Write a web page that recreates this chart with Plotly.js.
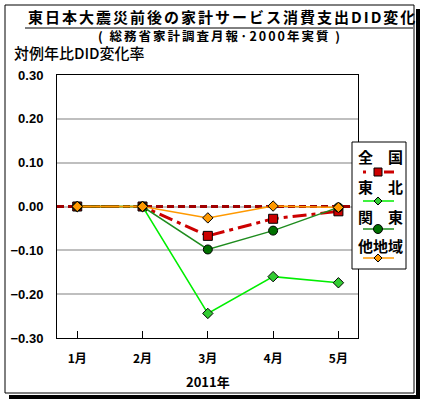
<!DOCTYPE html>
<html>
<head>
<meta charset="utf-8">
<script src="https://cdn.plot.ly/plotly-3.0.1.min.js"></script>
<style>
  html, body { margin: 0; padding: 0; background: #fff; }
  #chart { width: 425px; height: 405px; }
</style>
</head>
<body>
<div id="chart"></div>
<script>
/* ---------------- data ---------------- */
var months = ['1月', '2月', '3月', '4月', '5月'];
var zenkoku = [0, 0, -0.067, -0.028, -0.011];   // 全国
var tohoku  = [0, 0, -0.244, -0.160, -0.174];   // 東北
var kanto   = [0, 0, -0.098, -0.055, -0.002];   // 関東
var others  = [0, 0, -0.026, 0.001, -0.002];    // 他地域
var seriesNames = ['全　国', '東　北', '関　東', '他地域'];

var monthIdx = months.map(function (m, i) { return i; });
var xRange = [-0.31, 4.3];

/* ---------------- pixel helpers ---------------- */
var L = 57, R = 10, T = 75, B = 67;
var W = 425 - L - R, H = 405 - T - B;
function px(x) { return (x - L) / W; }
function py(y) { return (405 - B - y) / H; }

var jp = 'Noto Sans CJK JP, sans-serif';
var num = 'Liberation Sans, Arial, sans-serif';

var RED = '#CC0000', DKRED = '#A00000';
var LGREEN = '#00EE00', LGFILL = '#33CC33';
var DGREEN = '#1E8C1E', DGFILL = '#007000';
var ORANGE = '#FF9900';

/* ---------------- traces ---------------- */
var data = [{
  // dark red dashed reference line at zero, under the series
  x: xRange, y: [0, 0], type: 'scatter', mode: 'lines', hoverinfo: 'skip',
  line: {color: DKRED, width: 3, dash: '7px,4px'}
}, {
  x: monthIdx, y: zenkoku, name: seriesNames[0], type: 'scatter', mode: 'lines+markers',
  line: {color: RED, width: 3, dash: '14px,5px,4px,5px'},
  marker: {symbol: 'square', size: 9, color: RED, line: {color: '#000', width: 1}}
}, {
  x: monthIdx, y: tohoku, name: seriesNames[1], type: 'scatter', mode: 'lines+markers',
  line: {color: LGREEN, width: 1.5},
  marker: {symbol: 'diamond', size: 8, color: LGFILL, line: {color: '#000', width: 1}}
}, {
  x: monthIdx, y: kanto, name: seriesNames[2], type: 'scatter', mode: 'lines+markers',
  line: {color: DGREEN, width: 1.5},
  marker: {symbol: 'circle', size: 9, color: DGFILL, line: {color: '#000', width: 1}}
}, {
  x: monthIdx, y: others, name: seriesNames[3], type: 'scatter', mode: 'lines+markers',
  line: {color: ORANGE, width: 1.5},
  marker: {symbol: 'diamond', size: 8, color: ORANGE, line: {color: '#000', width: 1}}
}];

/* ---------------- legend drawn by hand (text above the sample) ---------------- */
var legX0 = 363, legX1 = 394, legMid = 378;
var legTextY = [156, 186, 216, 245];
var legLineY = [172, 201, 229, 258];

function diamond(cx, cy, r) {
  return 'M' + px(cx) + ',' + py(cy - r) + ' L' + px(cx + r) + ',' + py(cy) +
         ' L' + px(cx) + ',' + py(cy + r) + ' L' + px(cx - r) + ',' + py(cy) + ' Z';
}
function hline(x0, x1, y, color, width) {
  return {type: 'line', xref: 'paper', yref: 'paper', layer: 'above',
    x0: px(x0), x1: px(x1), y0: py(y), y1: py(y),
    line: {color: color, width: width}};
}

var shapes = [
  // outer frame + shadow
  {type: 'rect', xref: 'paper', yref: 'paper', layer: 'above',
   x0: px(5), x1: px(414), y0: py(5), y1: py(393), line: {color: '#000', width: 1}},
  {type: 'rect', xref: 'paper', yref: 'paper', layer: 'above',
   x0: px(416), x1: px(420), y0: py(9), y1: py(399), fillcolor: '#000', line: {width: 0}},
  {type: 'rect', xref: 'paper', yref: 'paper', layer: 'above',
   x0: px(9), x1: px(420), y0: py(395), y1: py(399), fillcolor: '#000', line: {width: 0}},
  // title underline
  hline(25, 413, 28, '#000', 1),
  // legend box
  {type: 'rect', xref: 'paper', yref: 'paper', layer: 'above',
   x0: px(352), x1: px(406), y0: py(142), y1: py(269), fillcolor: '#fff', line: {color: '#000', width: 1}},
  // legend samples
  hline(legX0, legX0 + 3, legLineY[0], RED, 3),
  hline(legMid + 6, legX1, legLineY[0], RED, 3),
  {type: 'rect', xref: 'paper', yref: 'paper', layer: 'above',
   x0: px(legMid - 4), x1: px(legMid + 4), y0: py(legLineY[0] - 4), y1: py(legLineY[0] + 4),
   fillcolor: RED, line: {color: '#000', width: 1}},
  hline(legX0, legX1, legLineY[1], LGREEN, 1.5),
  {type: 'path', xref: 'paper', yref: 'paper', layer: 'above', path: diamond(legMid, legLineY[1], 4),
   fillcolor: LGFILL, line: {color: '#000', width: 1}},
  hline(legX0, legX1, legLineY[2], DGREEN, 1.5),
  {type: 'circle', xref: 'paper', yref: 'paper', layer: 'above',
   x0: px(legMid - 4.5), x1: px(legMid + 4.5), y0: py(legLineY[2] - 4.5), y1: py(legLineY[2] + 4.5),
   fillcolor: DGFILL, line: {color: '#000', width: 1}},
  hline(legX0, legX1, legLineY[3], ORANGE, 1.5),
  {type: 'path', xref: 'paper', yref: 'paper', layer: 'above', path: diamond(legMid, legLineY[3], 4),
   fillcolor: ORANGE, line: {color: '#000', width: 1}}
];

var annotations = [
  {text: '<b><span style="letter-spacing:2px">東日本大震災前後の家計サービス消費支出DID変化</span></b>',
   x: px(26), y: py(17), xanchor: 'left', yanchor: 'middle',
   font: {family: jp, size: 15, color: '#000'}},
  {text: '<b><span style="letter-spacing:2px">( 総務省家計調査月報·2000年実質 )</span></b>',
   x: px(220), y: py(35), xanchor: 'center', yanchor: 'middle',
   font: {family: jp, size: 12.5, color: '#000'}},
  {text: '対例年比DID変化率',
   x: px(12), y: py(52), xanchor: 'left', yanchor: 'middle',
   font: {family: jp, size: 15, color: '#000', weight: 500}},
  {text: '<b>2011年</b>',
   x: px(208), y: py(381), xanchor: 'center', yanchor: 'middle',
   font: {family: jp, size: 13, color: '#000'}}
];
for (var i = 0; i < seriesNames.length; i++) {
  annotations.push({text: '<b>' + seriesNames[i] + '</b>',
    x: px(380), y: py(legTextY[i]), xanchor: 'center', yanchor: 'middle',
    font: {family: jp, size: 15, color: '#000'}});
}
annotations.forEach(function (a) { a.xref = 'paper'; a.yref = 'paper'; a.showarrow = false; });

var layout = {
  width: 425, height: 405,
  margin: {l: L, r: R, t: T, b: B, pad: 0},
  paper_bgcolor: '#fff', plot_bgcolor: '#fff',
  showlegend: false,
  xaxis: {
    domain: [0, px(358)],
    range: xRange,
    tickmode: 'array', tickvals: monthIdx, ticktext: months,
    showgrid: false, zeroline: false,
    showline: true, mirror: true, linecolor: '#000', linewidth: 1,
    ticks: 'inside', ticklen: 7, tickcolor: '#000', tickwidth: 1,
    ticklabelstandoff: 10,
    tickfont: {family: jp, size: 12, color: '#000', weight: 'bold'}
  },
  yaxis: {
    range: [-0.3, 0.3], dtick: 0.1, tickformat: '.2f',
    showgrid: true, gridcolor: '#BFBFBF', gridwidth: 2,
    zeroline: false,
    showline: true, mirror: true, linecolor: '#000', linewidth: 1,
    ticks: '', ticklabelstandoff: 10,
    tickfont: {family: num, size: 13, color: '#000', weight: 'bold'}
  },
  shapes: shapes,
  annotations: annotations
};

Plotly.newPlot('chart', data, layout, {staticPlot: true, displayModeBar: false});
</script>
</body>
</html>
